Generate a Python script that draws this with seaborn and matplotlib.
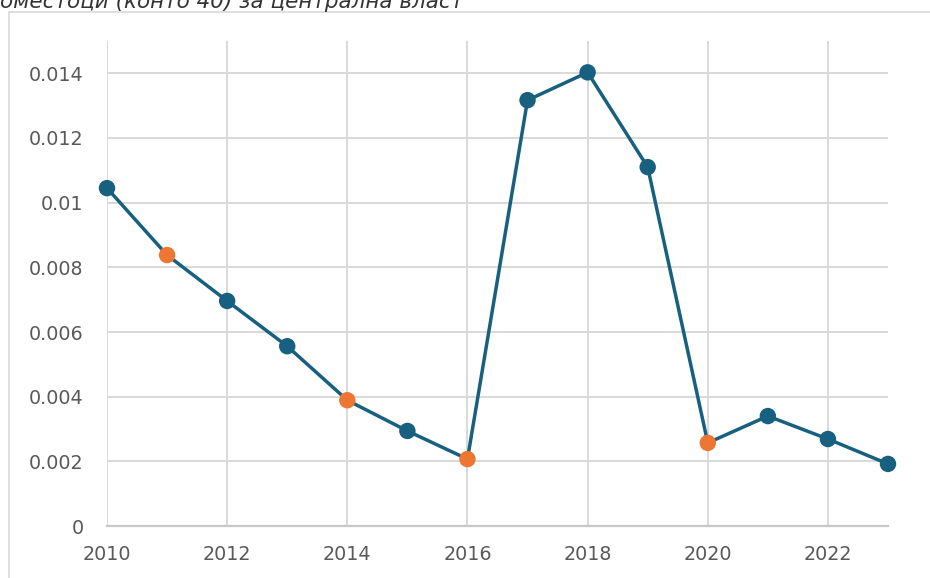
import matplotlib
matplotlib.use("Agg")
import matplotlib.pyplot as plt
import matplotlib.patches as patches
import pandas as pd
import seaborn as sns

# values
years = [2010, 2011, 2012, 2013, 2014, 2015, 2016,
         2017, 2018, 2019, 2020, 2021, 2022, 2023]
values = [0.01045, 0.00838, 0.00696, 0.00556, 0.00389, 0.00294, 0.00207,
          0.01317, 0.01403, 0.01110, 0.00257, 0.00340, 0.00269, 0.00192]
highlight_years = [2011, 2014, 2016, 2020]
title_text = "оместоци (конто 40) за централна власт"

yticks = [0, 0.002, 0.004, 0.006, 0.008, 0.01, 0.012, 0.014]
ytick_labels = ["0", "0.002", "0.004", "0.006", "0.008", "0.01", "0.012", "0.014"]
xticks = [2010, 2012, 2014, 2016, 2018, 2020, 2022]

blue = "#17607f"
orange = "#ed7632"
grid = "#d9d9d9"
text_col = "#595959"

df = pd.DataFrame({"year": years, "value": values})
df["kind"] = ["hl" if y in highlight_years else "normal" for y in years]

sns.set_theme(style="whitegrid")
plt.rcParams["font.family"] = ["DejaVu Sans"]

fig = plt.figure(figsize=(9.3, 5.78), dpi=100)
ax = fig.add_axes([107 / 930, 52 / 578, 781 / 930, 485 / 578])

# outer frame of the chart area
frame = patches.Rectangle((9 / 930, -0.05), 1.0, (578 - 12) / 578 + 0.05,
                          transform=fig.transFigure, fill=False,
                          edgecolor=grid, linewidth=1.2, clip_on=False)
fig.patches.append(frame)

sns.lineplot(data=df, x="year", y="value", color=blue, linewidth=2.5,
             ax=ax, zorder=3)
sns.scatterplot(data=df, x="year", y="value", hue="kind",
                palette={"normal": blue, "hl": orange}, s=140,
                edgecolor="none", legend=False, ax=ax, zorder=4, clip_on=False)

ax.set_xlim(2010, 2023)
ax.set_ylim(0, 0.015)
ax.set_xticks(xticks)
ax.set_yticks(yticks)
ax.set_yticklabels(ytick_labels)
ax.set_xlabel("")
ax.set_ylabel("")

ax.grid(True, color=grid, linewidth=1.4)
for side in ["top", "right", "left"]:
    ax.spines[side].set_visible(False)
ax.spines["bottom"].set_color("#c8c8c8")
ax.spines["bottom"].set_linewidth(1.6)

ax.tick_params(axis="y", length=0, pad=17, labelsize=13.8, labelcolor=text_col)
ax.tick_params(axis="x", length=0, pad=14, labelsize=13.8, labelcolor=text_col)

# the title is cut by the top edge in the original too
fig.text(0.0, (578 - 8) / 578, title_text, ha="left", va="baseline",
         fontsize=15.5, style="italic", color="#333333")

fig.savefig("out.png", dpi=100)
